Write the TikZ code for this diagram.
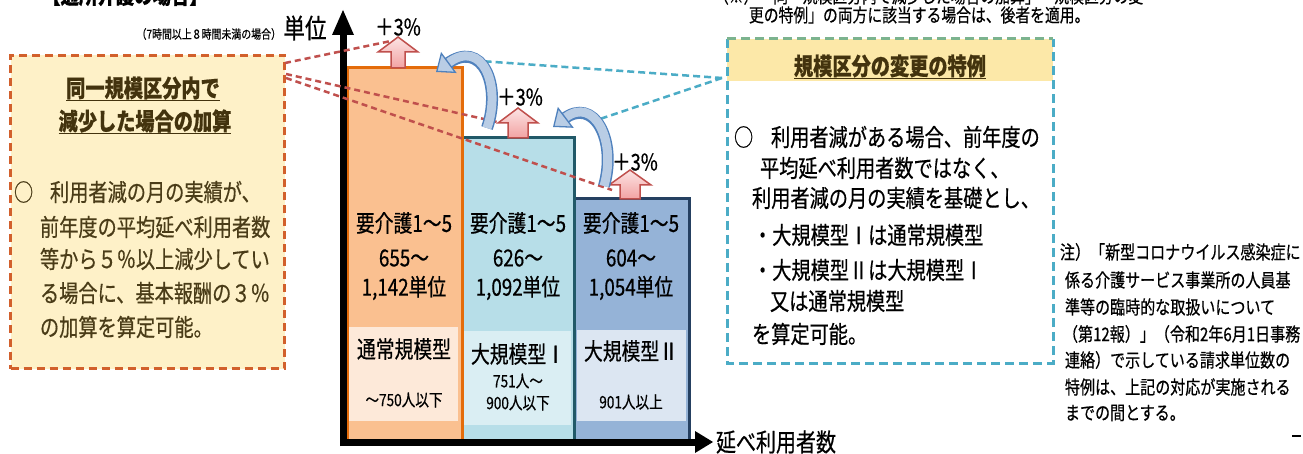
\documentclass[tikz,border=0pt]{standalone}
\usepackage{fontspec}
\setmainfont{Noto Sans CJK JP}[FakeStretch=0.8, FakeBold=0.5]
\usetikzlibrary{arrows.meta}
\definecolor{barA}{HTML}{FAC090}
\definecolor{barAline}{HTML}{E46C0A}
\definecolor{barAin}{HTML}{FDE9D9}
\definecolor{barB}{HTML}{B7DEE8}
\definecolor{barBline}{HTML}{215968}
\definecolor{barBin}{HTML}{DAEEF3}
\definecolor{barC}{HTML}{95B3D7}
\definecolor{barCline}{HTML}{254061}
\definecolor{barCin}{HTML}{DCE6F2}
\definecolor{pinkline}{HTML}{C0504D}
\definecolor{pinktop}{HTML}{FCE4E4}
\definecolor{pinkbot}{HTML}{F2A2A2}
\definecolor{cblue}{HTML}{4F81BD}
\definecolor{cbluefill}{HTML}{B9CDE5}
\definecolor{reddash}{HTML}{C0504D}
\definecolor{cyandash}{HTML}{4BACC6}
\definecolor{lboxline}{HTML}{D2602C}
\definecolor{lboxfill}{HTML}{FEF1C8}
\definecolor{brownt}{HTML}{43330E}
\definecolor{brownb}{HTML}{4A3C18}
\definecolor{hdrfill}{HTML}{FCE8A8}
\definecolor{hdrline}{HTML}{7CB38E}
\newcommand\myfs[1]{\fontsize{#1}{#1}\selectfont}
\newcommand\pinkup[6]{%
  \draw[pinkline, line width=1.5pt, top color=pinktop, bottom color=pinkbot, line join=miter]
  (#1-#6,#2) -- (#1-#6,#4) -- (#1-#5,#4) -- (#1,#3) -- (#1+#5,#4) -- (#1+#6,#4) -- (#1+#6,#2) -- cycle;}
\begin{document}
\begin{tikzpicture}[x=1pt,y=-1pt,
  txt/.style={inner sep=0pt, outer sep=0pt},
  bartxt/.style={txt, font=\myfs{23.5}},
  subtxt/.style={txt, font=\myfs{17}},
  pct/.style={txt, font=\myfs{23}},
  lbody/.style={txt, anchor=west, text=brownb, font=\myfs{24}},
  rbody/.style={txt, anchor=west, font=\myfs{24}},
  note/.style={txt, anchor=west, font=\myfs{18.8}},
  ttl/.style={txt, text=brownt, font=\myfs{24}\bfseries},
  uline/.style={brownt, line width=1.5pt},
  reddl/.style={reddash, line width=2.5pt, dash pattern=on 6pt off 4pt},
  cyandl/.style={cyandash, line width=2.5pt, dash pattern=on 7pt off 4pt},
  curvout/.style={cblue, line width=12pt, shorten >=13pt},
  curvin/.style={cbluefill, line width=9pt, -{Triangle[width=26pt,length=16pt,line width=1.3pt,color=cblue,fill=cbluefill]}}
]
\useasboundingbox (0,0) rectangle (1303,454);
\fill[white] (0,0) rectangle (1303,454);

% top texts (cut at top edge, as in the reference)
\node[txt, font=\myfs{23}\bfseries] (toptitle) at (125,-5) {【通所介護の場合】};
\node[txt, anchor=west, font=\myfs{18.5}] (topnote1) at (714,-4) {（※）「同一規模区分内で減少した場合の加算」「規模区分の変};
\node[txt, anchor=west, font=\myfs{18.5}] (topnote2) at (749,15) {更の特例」の両方に該当する場合は、後者を適用。};

% left box
\node[draw=lboxline, fill=lboxfill, line width=3pt, dash pattern=on 8pt off 5pt,
  minimum width=274pt, minimum height=313pt, anchor=north west, inner sep=0pt] (lbox) at (9,54) {};
\node[ttl] (lt1) at (143,88) {同一規模区分内で};
\node[ttl] (lt2) at (145,121) {減少した場合の加算};
\draw[uline] ([yshift=-1pt]lt1.south west) -- ([yshift=-1pt]lt1.south east);
\draw[uline] ([yshift=-1pt]lt2.south west) -- ([yshift=-1pt]lt2.south east);
\node[lbody] (lc) at (14,192) {○};
\node[lbody] (lb1) at (50,192) {利用者減の月の実績が、};
\node[lbody] (lb2) at (40,227) {前年度の平均延べ利用者数};
\node[lbody] (lb3) at (40,259) {等から５％以上減少してい};
\node[lbody] (lb4) at (40,293) {る場合に、基本報酬の３％};
\node[lbody] (lb5) at (40,327) {の加算を算定可能。};

% right box
\fill[white] (727,39) rectangle (1053,363);
\fill[hdrfill] (727,39) rectangle (1053,81);
\draw[cyandash, line width=3pt, dash pattern=on 9pt off 5pt] (727,39) -- (727,363) -- (1053,363) -- (1053,39);
\draw[hdrline, line width=3pt, dash pattern=on 9pt off 5pt] (727,39) -- (1053,39);
\node[ttl] (rt) at (890,66) {規模区分の変更の特例};
\draw[uline] ([yshift=-1pt]rt.south west) -- ([yshift=-1pt]rt.south east);
\node[rbody] (rc) at (734,137) {○};
\node[rbody] (rb1) at (771,137) {利用者減がある場合、前年度の};
\node[rbody] (rb2) at (760,168) {平均延べ利用者数ではなく、};
\node[rbody] (rb3) at (752,198) {利用者減の月の実績を基礎とし、};
\node[rbody] (rb4) at (753,235) {・大規模型Ⅰは通常規模型};
\node[rbody] (rb5) at (753,270) {・大規模型Ⅱは大規模型Ⅰ};
\node[rbody] (rb6) at (770,301) {又は通常規模型};
\node[rbody] (rb7) at (752,334) {を算定可能。};

% note
\node[note] (n1) at (1060,252) {注）「新型コロナウイルス感染症に};
\node[note] (n2) at (1065,280) {係る介護サービス事業所の人員基};
\node[note] (n3) at (1065,307) {準等の臨時的な取扱いについて};
\node[note] (n4) at (1063,334) {（第12報）」（令和2年6月1日事務};
\node[note] (n5) at (1065,360) {連絡）で示している請求単位数の};
\node[note] (n6) at (1065,387) {特例は、上記の対応が実施される};
\node[note] (n7) at (1065,413) {までの間とする。};
\draw[line width=1.2pt] (1292,436) -- (1301,436);

% bars
\fill[barA] (347,68) rectangle (462,440);
\fill[barAin] (349,327) rectangle (458,421);
\fill[barB] (462,138) rectangle (574,440);
\fill[barBin] (464,331) rectangle (571,425);
\fill[barC] (574,199) rectangle (689,440);
\fill[barCin] (577,330) rectangle (686,421);
\draw[barCline, line width=3pt] (574,199) -- (689,199) -- (689,440);
\draw[barBline, line width=3pt] (462,138) -- (574,138) -- (574,440);
\draw[barAline, line width=3pt] (347,440) -- (347,68) -- (462,68) -- (462,440);

% bar texts
\node[bartxt] (a1) at (404,223) {要介護1～5};
\node[bartxt] (a2) at (404,258) {655～};
\node[bartxt] (a3) at (404,288) {1,142単位};
\node[bartxt] (a4) at (404,349) {通常規模型};
\node[subtxt] (a5) at (404,400) {～750人以下};
\node[bartxt] (b1) at (518,223) {要介護1～5};
\node[bartxt] (b2) at (518,258) {626～};
\node[bartxt] (b3) at (518,288) {1,092単位};
\node[bartxt] (b4) at (518,354) {大規模型Ⅰ};
\node[subtxt] (b5) at (518,381) {751人～};
\node[subtxt] (b6) at (518,403) {900人以下};
\node[bartxt] (c1) at (631,223) {要介護1～5};
\node[bartxt] (c2) at (631,258) {604～};
\node[bartxt] (c3) at (631,288) {1,054単位};
\node[bartxt] (c4) at (631,351) {大規模型Ⅱ};
\node[subtxt] (c5) at (631,402) {901人以上};

% axes
\draw[line width=7pt] (343,446) -- (343,30);
\fill (343,10) -- (354,35) -- (332,35) -- cycle;
\draw[line width=7pt] (340,442) -- (697,442);
\fill (713,442) -- (695,431) -- (695,453) -- cycle;
\node[txt, font=\myfs{27}] (yl) at (305,28) {単位};
\node[txt, anchor=east, font=\myfs{12.4}] (ysub) at (281,34) {（7時間以上８時間未満の場合）};
\node[txt, anchor=west, font=\myfs{25}] (xl) at (716,442) {延べ利用者数};

% red dashed connectors
\coordinate (lr1) at (285,63);
\coordinate (lr2) at (286,74);
\coordinate (lr3) at (286,78);
\coordinate (ar1) at (391,41);
\coordinate (ar2) at (497,122);
\coordinate (ar3) at (612,190);
\draw[reddl] (lr1) -- (ar1);
\draw[reddl] (lr2) -- (ar2);
\draw[reddl] (lr3) -- (ar3);

% cyan dashed connectors
\coordinate (rl) at (722,78);
\coordinate (ca) at (480,61);
\coordinate (cb) at (597,120);
\draw[cyandl] (rl) -- (ca);
\draw[cyandl] (rl) -- (cb);

% pink up arrows
\pinkup{398}{68}{37}{52}{20}{7}
\pinkup{518}{138}{108}{123}{20}{10}
\pinkup{630}{199}{170}{185}{21}{10}
\node[pct] (p1) at (398,27) {＋3\%};
\node[pct] (p2) at (520,97) {＋3\%};
\node[pct] (p3) at (635,162) {＋3\%};

% curved blue arrows
\draw[curvout] (487,128) .. controls (502,85) and (482,38) .. (436,72);
\draw[curvin] (487,128) .. controls (502,85) and (482,38) .. (436,72);
\draw[curvout] (604,186) .. controls (617,140) and (594,96) .. (553,127);
\draw[curvin] (604,186) .. controls (617,140) and (594,96) .. (553,127);
\end{tikzpicture}
\end{document}
